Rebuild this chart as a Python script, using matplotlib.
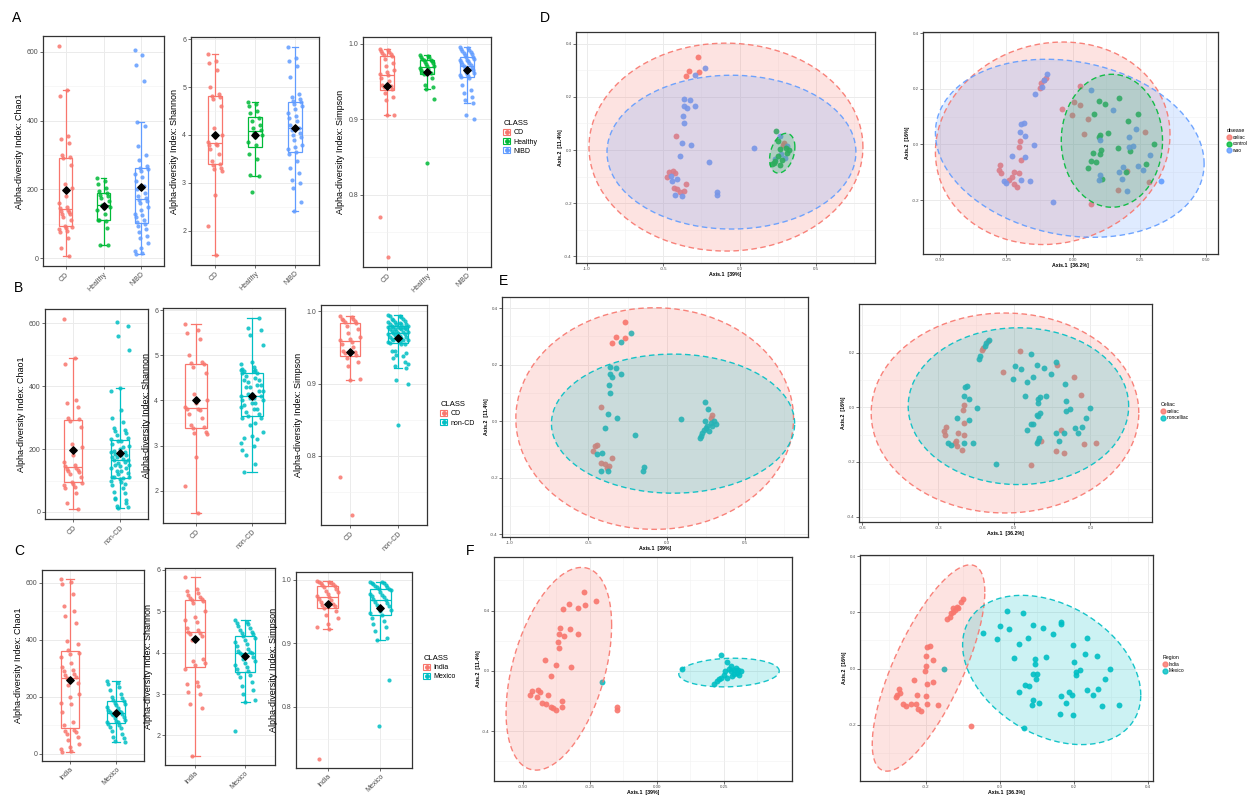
import numpy as np
import matplotlib
matplotlib.use("Agg")
import matplotlib.pyplot as plt
from matplotlib.patches import Patch
from matplotlib.lines import Line2D
from matplotlib.legend_handler import HandlerTuple
from matplotlib.ticker import AutoMinorLocator

plt.rcParams['font.family'] = ['Liberation Sans', 'DejaVu Sans']

W, H = 1252, 798
RED, GREEN, BLUE, TEAL = '#F8766D', '#00BA38', '#619CFF', '#00BFC4'

# ---------------- alpha diversity data ----------------
chao_cd = [615, 488, 470, 355, 345, 335, 300, 295, 290, 270, 215, 205, 180, 160, 150, 145,
           140, 138, 135, 130, 128, 120, 110, 95, 92, 88, 85, 80, 75, 60, 30, 8]
chao_healthy = [232, 225, 215, 205, 195, 190, 185, 180, 175, 165, 155, 150, 145, 140, 130,
                112, 108, 110, 88, 40, 38]
chao_nibd = [605, 590, 560, 515, 395, 385, 325, 300, 285, 268, 262, 258, 252, 245, 235, 225,
             210, 200, 190, 180, 175, 170, 165, 160, 150, 140, 130, 125, 120, 110, 105, 100,
             95, 85, 75, 65, 60, 45, 30, 20, 15, 12]
shan_cd = [5.7, 5.55, 5.5, 5.35, 5.0, 4.85, 4.82, 4.8, 4.75, 4.6, 4.15, 4.0, 3.95, 3.85, 3.82,
           3.8, 3.78, 3.7, 3.6, 3.45, 3.4, 3.38, 3.3, 3.28, 3.25, 2.75, 2.1, 1.5]
shan_healthy = [4.68, 4.65, 4.6, 4.5, 4.45, 4.35, 4.3, 4.2, 4.15, 4.1, 4.05, 4.0, 3.95, 3.85,
                3.8, 3.6, 3.5, 3.17, 3.15, 2.8]
shan_nibd = [5.83, 5.6, 5.55, 5.45, 5.22, 4.85, 4.8, 4.75, 4.7, 4.68, 4.65, 4.6, 4.55, 4.45,
             4.4, 4.35, 4.3, 4.2, 4.15, 4.1, 4.05, 4.0, 3.95, 3.9, 3.8, 3.75, 3.7, 3.65, 3.6,
             3.45, 3.3, 3.2, 3.05, 3.0, 2.9, 2.6, 2.42]
simp_cd = [0.993, 0.992, 0.99, 0.989, 0.988, 0.986, 0.985, 0.984, 0.98, 0.975, 0.97, 0.965,
           0.962, 0.96, 0.958, 0.955, 0.95, 0.945, 0.944, 0.943, 0.94, 0.935, 0.93, 0.925,
           0.906, 0.905, 0.77, 0.718]
simp_healthy = [0.985, 0.984, 0.983, 0.982, 0.98, 0.979, 0.978, 0.977, 0.976, 0.975, 0.973,
                0.971, 0.97, 0.968, 0.966, 0.965, 0.963, 0.962, 0.961, 0.96, 0.955, 0.945,
                0.942, 0.94, 0.927, 0.842]
simp_nibd = [0.995, 0.994, 0.993, 0.992, 0.99, 0.989, 0.988, 0.986, 0.985, 0.983, 0.982, 0.98,
             0.979, 0.978, 0.977, 0.976, 0.975, 0.973, 0.972, 0.97, 0.968, 0.967, 0.965, 0.963,
             0.961, 0.96, 0.958, 0.957, 0.956, 0.955, 0.945, 0.938, 0.935, 0.93, 0.925, 0.922,
             0.905, 0.9]

chao_india = [615, 605, 595, 560, 520, 500, 485, 460, 395, 385, 365, 355, 350, 340, 320, 305,
              295, 290, 280, 275, 270, 265, 250, 240, 210, 200, 180, 175, 145, 110, 100, 85,
              80, 75, 70, 60, 50, 35, 25, 15, 8, 5]
chao_mexico = [255, 250, 245, 235, 225, 210, 200, 195, 190, 185, 180, 175, 170, 165, 160, 155,
               150, 148, 145, 140, 138, 135, 130, 125, 120, 115, 112, 110, 105, 100, 95, 90,
               80, 70, 60, 55, 45, 40]
shan_india = [5.83, 5.55, 5.5, 5.45, 5.4, 5.35, 5.32, 5.3, 5.28, 5.25, 5.2, 5.0, 4.85, 4.8,
              4.75, 4.6, 4.55, 4.5, 4.48, 4.45, 4.4, 4.3, 3.85, 3.8, 3.75, 3.7, 3.6, 3.3, 3.25,
              3.2, 3.05, 3.0, 2.75, 2.65, 1.5]
shan_mexico = [4.78, 4.75, 4.72, 4.7, 4.65, 4.6, 4.55, 4.5, 4.48, 4.45, 4.4, 4.35, 4.3, 4.25,
               4.2, 4.15, 4.1, 4.05, 4.02, 4.0, 3.98, 3.95, 3.9, 3.85, 3.8, 3.75, 3.7, 3.65,
               3.6, 3.55, 3.5, 3.45, 3.4, 3.3, 3.2, 3.1, 3.0, 2.85, 2.8, 2.1]
simp_india = [0.998, 0.997, 0.996, 0.995, 0.994, 0.993, 0.992, 0.99, 0.988, 0.985, 0.982,
              0.98, 0.978, 0.975, 0.972, 0.97, 0.968, 0.965, 0.962, 0.96, 0.958, 0.955, 0.95,
              0.945, 0.94, 0.93, 0.925, 0.922, 0.718]
simp_mexico = [0.997, 0.996, 0.995, 0.994, 0.993, 0.992, 0.99, 0.989, 0.988, 0.986, 0.985,
               0.983, 0.98, 0.978, 0.976, 0.975, 0.973, 0.97, 0.968, 0.965, 0.963, 0.96, 0.958,
               0.955, 0.952, 0.95, 0.948, 0.945, 0.94, 0.935, 0.93, 0.925, 0.92, 0.908, 0.905,
               0.842, 0.77]

labels_a = ['CD', 'Healthy', 'NIBD']
labels_b = ['CD', 'non-CD']
labels_c = ['India', 'Mexico']

# ---------------- PCoA data ----------------
# D left (Axis.1 39%, Axis.2 11.4%)
dl_cd_x = [-0.269, -0.328, -0.264, -0.349, -0.417, -0.465, -0.439, -0.476, -0.432, -0.41,
           -0.389, -0.352, -0.367, -0.421, 0.293, 0.284]
dl_cd_y = [0.350, 0.297, 0.295, 0.279, 0.053, -0.083, -0.079, -0.100, -0.142, -0.146, -0.158,
           -0.127, -0.154, -0.085, 0.025, 0.018]
dl_nibd_x = [-0.229, -0.295, -0.362, -0.323, -0.290, -0.362, -0.345, -0.371, -0.362, -0.376,
             -0.317, -0.393, -0.201, 0.092, -0.146, -0.148, -0.443, -0.41, -0.421, -0.378,
             -0.45, 0.262, 0.271, 0.299, 0.314, 0.234]
dl_nibd_y = [0.310, 0.281, 0.191, 0.187, 0.166, 0.166, 0.159, 0.130, 0.103, 0.025, 0.018,
             -0.023, -0.045, 0.008, -0.157, -0.169, -0.117, -0.108, -0.171, -0.173, -0.098,
             0.053, -0.016, -0.029, 0.015, -0.033]
dl_h_x = [0.240, 0.255, 0.223, 0.249, 0.310, 0.277, 0.321, 0.262, 0.212, 0.306, 0.266, 0.234]
dl_h_y = [0.072, 0.034, -0.048, -0.023, -0.010, -0.038, 0.0, -0.058, -0.054, 0.009, 0.003,
          -0.041]

# D right (disease)
dr_cel_x = [-0.101, -0.11, -0.12, -0.125, 0.025, -0.041, 0.0025, 0.0275, -0.0025, 0.056,
            0.0425, 0.269, -0.2, -0.204, -0.195, -0.2725, -0.279, -0.27, -0.2225, -0.201,
            -0.229, -0.2225, -0.21, 0.2025, 0.1675, 0.284, 0.0675, -0.24]
dr_cel_y = [0.240, 0.23, 0.221, 0.204, 0.209, 0.129, 0.153, 0.140, 0.105, 0.090, 0.039, 0.043,
            0.011, -0.008, -0.056, -0.074, -0.092, -0.104, -0.098, -0.104, -0.119, -0.142,
            -0.152, -0.094, -0.164, -0.134, -0.214, -0.128]
dr_con_x = [0.096, 0.121, 0.171, 0.08, 0.2425, 0.206, 0.1025, 0.13, 0.0975, 0.105, 0.1, 0.075,
            0.2125, 0.305, 0.069, 0.085, 0.055, 0.109, 0.1975, 0.274, 0.169]
dr_con_y = [0.156, 0.144, 0.165, 0.109, 0.109, 0.085, 0.033, 0.042, 0.027, -0.020, -0.035,
            -0.030, -0.023, 0.0, -0.059, -0.062, -0.084, -0.124, -0.101, -0.072, -0.014]
dr_oth_x = [-0.0975, -0.1075, -0.116, -0.141, 0.069, 0.15, -0.185, -0.194, -0.1975, -0.18,
            -0.1475, -0.229, -0.18, -0.195, -0.1625, -0.26, -0.25, 0.236, 0.209, 0.209, 0.224,
            0.1, 0.29, 0.2425, 0.261, 0.171, 0.1875, 0.1025, 0.096, 0.184, 0.2025, 0.33, -0.075]
dr_oth_y = [0.252, 0.230, 0.207, 0.180, 0.197, 0.123, 0.078, 0.073, 0.045, 0.030, -0.002,
            -0.041, -0.047, -0.128, -0.130, -0.131, -0.137, 0.054, 0.025, -0.011, -0.005, 0.016,
            -0.039, -0.076, -0.092, -0.098, -0.082, -0.110, -0.128, -0.124, -0.166, -0.131,
            -0.208]

# E left (CD vs non-CD)
el_cd_x = [-0.268, -0.325, -0.268, -0.346, -0.416, -0.442, -0.459, -0.473, -0.420, -0.395,
           -0.378, -0.350, -0.367, 0.291, 0.280]
el_cd_y = [0.349, 0.298, 0.293, 0.278, 0.050, -0.085, -0.089, -0.106, -0.148, -0.151, -0.165,
           -0.132, -0.160, 0.021, 0.012]
el_non_x = [-0.225, -0.293, -0.361, -0.325, -0.289, -0.361, -0.346, -0.367, -0.363, -0.374,
            -0.316, -0.393, -0.202, 0.093, -0.144, -0.149, -0.446, -0.410, -0.416, -0.374,
            0.242, 0.263, 0.227, 0.217, 0.238, 0.259, 0.280, 0.301, 0.248, 0.270, 0.212,
            0.291, 0.312, 0.242]
el_non_y = [0.310, 0.280, 0.191, 0.187, 0.165, 0.165, 0.157, 0.128, 0.099, 0.024, 0.012,
            -0.026, -0.048, 0.006, -0.162, -0.177, -0.118, -0.112, -0.177, -0.177, 0.069,
            0.044, -0.041, -0.053, -0.030, -0.018, -0.006, 0.0, -0.024, -0.035, -0.061,
            -0.018, -0.012, 0.0]

# E right (Celiac)
er_cel_x = [-0.103, -0.123, -0.129, 0.022, -0.046, 0.168, 0.236, 0.264, -0.199, -0.202, -0.197,
            -0.270, -0.278, -0.274, -0.222, -0.199, -0.231, -0.235, -0.208, 0.183, 0.104,
            0.165, 0.197, 0.276, 0.323, 0.065, -0.228]
er_cel_y = [0.241, 0.217, 0.209, 0.207, 0.129, 0.156, 0.110, 0.044, 0.010, -0.009, -0.057,
            -0.073, -0.088, -0.100, -0.096, -0.102, -0.122, -0.130, -0.155, -0.082, -0.124,
            -0.161, -0.167, -0.133, -0.130, -0.212, -0.143]
er_non_x = [-0.099, -0.11, -0.116, -0.136, -0.14, 0.065, 0.003, 0.026, 0.091, 0.115, 0.145,
            0.165, -0.007, 0.051, 0.075, 0.2, -0.193, -0.185, -0.199, -0.179, -0.149, 0.040,
            0.095, 0.102, 0.125, 0.095, 0.204, 0.218, 0.204, 0.299, 0.102, 0.091, 0.095, 0.284,
            0.266, 0.241, 0.253, 0.066, 0.075, 0.049, -0.228, -0.178, -0.165, -0.198, -0.251,
            -0.261, 0.098, 0.095, 0.088, 0.165, 0.177, 0.194, -0.074]
er_non_y = [0.248, 0.235, 0.223, 0.187, 0.178, 0.195, 0.152, 0.140, 0.156, 0.144, 0.123, 0.165,
            0.105, 0.091, 0.110, 0.085, 0.074, 0.077, 0.043, 0.032, -0.002, 0.040, 0.030,
            0.038, 0.040, 0.016, 0.024, -0.006, -0.015, -0.002, -0.021, -0.027, -0.033, -0.039,
            -0.072, -0.076, -0.094, -0.060, -0.061, -0.082, -0.039, -0.048, -0.130, -0.130,
            -0.137, -0.130, -0.112, -0.124, -0.130, -0.096, -0.124, -0.094, -0.206]

# F left (Region, Axis.1 39%)
fl_ind_x = [-0.271, -0.229, -0.268, -0.328, -0.350, -0.295, -0.323, -0.363, -0.365, -0.346,
            -0.293, -0.371, -0.365, -0.418, -0.375, -0.319, -0.396, -0.466, -0.444, -0.438,
            -0.475, -0.448, -0.406, -0.428, -0.413, -0.394, -0.375, -0.356, -0.356, -0.388,
            -0.150, -0.148]
fl_ind_y = [0.520, 0.460, 0.439, 0.445, 0.413, 0.417, 0.277, 0.284, 0.245, 0.234, 0.245, 0.191,
            0.153, 0.075, 0.037, 0.024, -0.034, -0.131, -0.127, -0.142, -0.157, -0.174, -0.163,
            -0.213, -0.222, -0.239, -0.256, -0.239, -0.200, -0.243, -0.239, -0.256]
fl_mex_x = [-0.204, 0.238, 0.094, 0.263, 0.213, 0.225, 0.231, 0.25, 0.275, 0.2875, 0.3, 0.3125,
            0.281, 0.2625, 0.294, 0.306, 0.275, 0.2525, 0.2375, 0.2875, 0.269, 0.3025]
fl_mex_y = [-0.071, 0.105, 0.013, 0.062, -0.088, -0.067, -0.056, -0.024, -0.002, 0.009, -0.013,
            -0.002, -0.034, -0.045, 0.019, -0.028, 0.030, -0.002, -0.045, -0.019, 0.015, 0.009]

# F right (Region, Axis.1 36.3%)
fr_ind_x = [-0.101, -0.104, -0.117, -0.122, -0.126, -0.131, -0.135, -0.144, -0.113, -0.128,
            -0.189, -0.196, -0.2, -0.18, -0.2, -0.203, -0.232, -0.18, -0.198, -0.223, -0.2,
            -0.198, -0.272, -0.27, -0.277, -0.281, -0.263, -0.254, -0.239, -0.227, -0.221,
            -0.214, -0.167, -0.077]
fr_ind_y = [0.249, 0.238, 0.220, 0.208, 0.202, 0.196, 0.184, 0.176, 0.214, 0.214, 0.080, 0.075,
            0.044, 0.032, 0.008, -0.008, -0.042, -0.048, -0.056, -0.095, -0.099, -0.125,
            -0.071, -0.087, -0.095, -0.101, -0.125, -0.133, -0.125, -0.125, -0.143, -0.151,
            -0.131, -0.205]
fr_mex_x = [-0.150, -0.045, -0.007, 0.0, 0.02, 0.023, 0.063, 0.088, 0.115, 0.165, 0.165, 0.144,
            0.052, 0.076, 0.038, 0.095, 0.095, 0.124, 0.198, 0.2, 0.23, 0.261, 0.234, 0.297,
            0.284, 0.204, 0.204, 0.216, 0.09, 0.099, 0.097, 0.067, 0.077, 0.05, 0.164, 0.177,
            0.185, 0.195, 0.234, 0.252, 0.265, 0.275, 0.322, 0.09, 0.104, 0.086, 0.162, 0.196,
            0.064]
fr_mex_y = [0.0, 0.128, 0.106, 0.152, 0.205, 0.139, 0.196, 0.154, 0.145, 0.166, 0.157, 0.122,
            0.089, 0.109, 0.039, 0.033, 0.015, 0.042, 0.083, 0.024, 0.053, 0.044, 0.108, -0.001,
            -0.037, -0.014, -0.024, -0.006, -0.018, -0.018, -0.036, -0.059, -0.062, -0.083,
            -0.096, -0.122, -0.083, -0.093, -0.077, -0.093, -0.071, -0.133, -0.131, -0.113,
            -0.122, -0.128, -0.160, -0.166, -0.211]

# ellipses: centre x, centre y, half x-extent, half y-extent, phase (deg; 90 = upright)
ell_dl = [(-0.089, 0.011, 0.898, 0.392, 90, RED), (-0.053, -0.008, 0.816, 0.290, 90, BLUE),
          (0.280, -0.012, 0.083, 0.075, 72, GREEN)]
ell_dr = [(-0.076, 0.004, 0.440, 0.364, 85, RED), (0.146, 0.013, 0.190, 0.239, 90, GREEN),
          (-0.012, -0.014, 0.504, 0.320, 100, BLUE)]
ell_el = [(-0.077, 0.009, 0.885, 0.392, 90, RED), (0.040, -0.009, 0.775, 0.246, 90, TEAL)]
ell_er = [(-0.037, -0.021, 0.528, 0.366, 90, RED), (0.016, 0.004, 0.435, 0.287, 90, TEAL)]
ell_fl = [(-0.366, 0.014, 0.197, 0.672, 64.5, RED), (0.269, -0.011, 0.1875, 0.095, 84, TEAL)]
ell_fr = [(-0.193, 0.002, 0.152, 0.367, 42.5, RED), (0.1395, -0.005, 0.2405, 0.2655, 109.6, TEAL)]

fig = plt.figure(figsize=(W / 100, H / 100), dpi=100)


def px(l, t, r, b):
    return [l / W, 1 - b / H, (r - l) / W, (b - t) / H]


def style_axes(ax, lab, pad=1.5):
    ax.set_facecolor('white')
    for s in ax.spines.values():
        s.set_color('#333333')
        s.set_linewidth(0.9)
    ax.xaxis.set_minor_locator(AutoMinorLocator(2))
    ax.yaxis.set_minor_locator(AutoMinorLocator(2))
    ax.grid(True, which='major', color='#EBEBEB', lw=0.7, zorder=0)
    ax.grid(True, which='minor', color='#F2F2F2', lw=0.4, zorder=0)
    ax.set_axisbelow(True)
    ax.tick_params(which='minor', length=0)
    ax.tick_params(which='major', length=2, width=0.5, colors='#333333', labelsize=lab,
                   labelcolor='#4D4D4D', pad=pad)


def box_panel(rect, groups, colors, labels, ylabel, yticks, width):
    ax = fig.add_axes(px(*rect))
    style_axes(ax, 5)
    ax.xaxis.set_minor_locator(plt.NullLocator())
    for i, (vals, c) in enumerate(zip(groups, colors)):
        pos = i + 1
        ax.boxplot(vals, positions=[pos], widths=width, showfliers=False, whis=1.5,
                   patch_artist=True, capwidths=width * 0.45, manage_ticks=False,
                   boxprops=dict(facecolor='none', edgecolor=c, lw=0.9),
                   medianprops=dict(color=c, lw=0.9), whiskerprops=dict(color=c, lw=0.9),
                   capprops=dict(color=c, lw=0.9), zorder=2)
        n = len(vals)
        jit = (((np.arange(n) * 7) % 13) / 12 - 0.5) * 2 * width * 0.5
        ax.scatter(pos + jit, vals, s=9, color=c, alpha=0.85, lw=0, zorder=3)
        ax.scatter([pos], [np.mean(vals)], marker='D', s=14, color='black', zorder=4)
    ax.set_xlim(0.4, len(groups) + 0.6)
    ax.set_xticks(range(1, len(groups) + 1))
    ax.set_xticklabels(labels, rotation=45, ha='right', rotation_mode='anchor')
    ax.set_yticks(yticks)
    ax.margins(y=0.05)
    ax.set_ylabel(ylabel, fontsize=6.5, labelpad=2)
    return ax


def box_legend(x, y, colors, labels):
    handles = [(Patch(facecolor='white', edgecolor=c, lw=0.8),
                Line2D([], [], marker='o', ms=2.5, color=c, ls='')) for c in colors]
    fig.legend(handles, labels, title='CLASS', loc='upper left',
               bbox_to_anchor=(x / W, 1 - y / H), frameon=False, fontsize=5,
               title_fontsize=5.5, handler_map={tuple: HandlerTuple(ndivide=1)},
               handlelength=1.0, handleheight=0.9, labelspacing=0.25, borderpad=0,
               alignment='left', handletextpad=0.4)


def ellipse_xy(cx, cy, a, b, phi):
    t = np.linspace(0, 2 * np.pi, 240)
    return cx + a * np.cos(t), cy + b * np.cos(t - np.deg2rad(phi))


def pcoa_panel(rect, pts, ells, xlim, ylim, xticks, yticks, xfmt, yfmt, xlabel, ylabel):
    ax = fig.add_axes(px(*rect))
    style_axes(ax, 3.2, pad=1)
    for xs, ys, c in pts:
        ax.scatter(xs, ys, s=18, color=c, alpha=0.9, lw=0, zorder=3)
    for cx, cy, a, b, phi, c in ells:
        ex, ey = ellipse_xy(cx, cy, a, b, phi)
        ax.fill(ex, ey, color=c, alpha=0.2, lw=0, zorder=4)
        ax.plot(ex, ey, color=c, lw=1.0, ls=(0, (4, 2.5)), zorder=5, alpha=0.9)
    ax.set_xlim(*xlim)
    ax.set_ylim(*ylim)
    ax.set_xticks(xticks)
    ax.set_yticks(yticks)
    ax.set_xticklabels([xfmt % v for v in xticks])
    ax.set_yticklabels([yfmt % v for v in yticks])
    ax.set_xlabel(xlabel, fontsize=3.8, fontweight='bold', labelpad=0.5)
    ax.set_ylabel(ylabel, fontsize=3.8, fontweight='bold', labelpad=1)
    return ax


def pcoa_legend(x, y, title, colors, labels):
    handles = [Line2D([], [], marker='o', ms=3.5, color=c, ls='', alpha=0.8) for c in colors]
    fig.legend(handles, labels, title=title, loc='upper left', bbox_to_anchor=(x / W, 1 - y / H),
               frameon=False, fontsize=3.5, title_fontsize=3.8, handletextpad=0.2,
               labelspacing=0.3, borderpad=0, alignment='left', handlelength=1.0)


# ---------------- panels A, B, C ----------------
col3 = [RED, GREEN, BLUE]
col2 = [RED, TEAL]
box_panel((43, 36, 164, 266), [chao_cd, chao_healthy, chao_nibd], col3, labels_a,
          'Alpha-diversity Index: Chao1', [0, 200, 400, 600], 0.35)
box_panel((191, 37, 319, 265), [shan_cd, shan_healthy, shan_nibd], col3, labels_a,
          'Alpha-diversity Index: Shannon', [2, 3, 4, 5, 6], 0.35)
box_panel((363, 37, 491, 267), [simp_cd, simp_healthy, simp_nibd], col3, labels_a,
          'Alpha-diversity Index: Simpson', [0.8, 0.9, 1.0], 0.35)
box_legend(500, 117, col3, labels_a)

box_panel((45, 309, 148, 519), [chao_cd, chao_healthy + chao_nibd], col2, labels_b,
          'Alpha-diversity Index: Chao1', [0, 200, 400, 600], 0.4)
box_panel((163, 308, 285, 523), [shan_cd, shan_healthy + shan_nibd], col2, labels_b,
          'Alpha-diversity Index: Shannon', [2, 3, 4, 5, 6], 0.4)
box_panel((321, 305, 427, 525), [simp_cd, simp_healthy + simp_nibd], col2, labels_b,
          'Alpha-diversity Index: Simpson', [0.8, 0.9, 1.0], 0.4)
box_legend(437, 398, col2, labels_b)

box_panel((42, 570, 144, 761), [chao_india, chao_mexico], col2, labels_c,
          'Alpha-diversity Index: Chao1', [0, 200, 400, 600], 0.4)
box_panel((165, 568, 275, 765), [shan_india, shan_mexico], col2, labels_c,
          'Alpha-diversity Index: Shannon', [2, 3, 4, 5, 6], 0.4)
box_panel((296, 572, 412, 768), [simp_india, simp_mexico], col2, labels_c,
          'Alpha-diversity Index: Simpson', [0.8, 0.9, 1.0], 0.4)
box_legend(420, 652, col2, labels_c)

# ---------------- panels D, E, F ----------------
pcoa_panel((576, 32, 875, 263),
           [(dl_cd_x, dl_cd_y, RED), (dl_nibd_x, dl_nibd_y, BLUE), (dl_h_x, dl_h_y, GREEN)],
           ell_dl, (-1.072, 0.888), (-0.426, 0.445), [-1.0, -0.5, 0.0, 0.5],
           [-0.4, -0.2, 0.0, 0.2, 0.4], '%.1f', '%.1f', 'Axis.1  [39%]', 'Axis.2  [11.4%]')
pcoa_panel((923, 32, 1218, 254),
           [(dr_cel_x, dr_cel_y, RED), (dr_con_x, dr_con_y, GREEN), (dr_oth_x, dr_oth_y, BLUE)],
           ell_dr, (-0.5625, 0.544), (-0.394, 0.404), [-0.5, -0.25, 0.0, 0.25, 0.5],
           [-0.2, 0.0, 0.2, 0.4], '%.2f', '%.1f', 'Axis.1  [36.2%]', 'Axis.2  [16%]')
pcoa_legend(1224, 126, 'disease', [RED, GREEN, BLUE], ['celiac', 'control', 'wao'])

pcoa_panel((502, 297, 808, 537),
           [(el_cd_x, el_cd_y, RED), (el_non_x, el_non_y, TEAL)],
           ell_el, (-1.05, 0.90), (-0.41, 0.439), [-1.0, -0.5, 0.0, 0.5],
           [-0.4, -0.2, 0.0, 0.2, 0.4], '%.1f', '%.1f', 'Axis.1  [39%]', 'Axis.2  [11.4%]')
pcoa_panel((859, 304, 1152, 522),
           [(er_cel_x, er_cel_y, RED), (er_non_x, er_non_y, TEAL)],
           ell_er, (-0.613, 0.543), (-0.42, 0.378), [-0.6, -0.3, 0.0, 0.3],
           [-0.4, -0.2, 0.0, 0.2], '%.1f', '%.1f', 'Axis.1  [36.2%]', 'Axis.2  [16%]')
pcoa_legend(1158, 400, 'Celiac', [RED, TEAL], ['celiac', 'noncelliac'])

pcoa_panel((494, 557, 792, 781),
           [(fl_ind_x, fl_ind_y, RED), (fl_mex_x, fl_mex_y, TEAL)],
           ell_fl, (-0.608, 0.504), (-0.73, 0.755), [-0.5, -0.25, 0.0, 0.25],
           [-0.4, 0.0, 0.4], '%.2f', '%.1f', 'Axis.1  [39%]', 'Axis.2  [11.4%]')
pcoa_panel((860, 555, 1153, 781),
           [(fr_ind_x, fr_ind_y, RED), (fr_mex_x, fr_mex_y, TEAL)],
           ell_fr, (-0.378, 0.413), (-0.40, 0.404), [-0.2, 0.0, 0.2, 0.4],
           [-0.2, 0.0, 0.2, 0.4], '%.1f', '%.1f', 'Axis.1  [36.3%]', 'Axis.2  [16%]')
pcoa_legend(1160, 653, 'Region', [RED, TEAL], ['India', 'Mexico'])

# panel letters
for lab, x, y in [('A', 12, 18), ('B', 14, 288), ('C', 14, 551), ('D', 540, 18),
                  ('E', 499, 281), ('F', 466, 551)]:
    fig.text(x / W, 1 - y / H, lab, fontsize=10, va='center', ha='left')

fig.savefig('out.png', dpi=100, facecolor='white')
